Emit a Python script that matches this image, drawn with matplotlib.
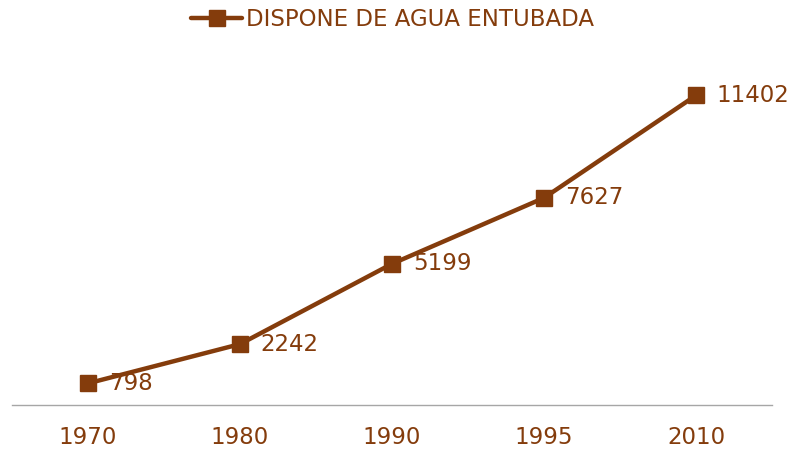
import matplotlib
matplotlib.use('Agg')
import matplotlib.pyplot as plt

years = ["1970", "1980", "1990", "1995", "2010"]
agua = [798, 2242, 5199, 7627, 11402]
series_name = "DISPONE DE AGUA ENTUBADA"

brown = "#843C0C"
plt.rcParams.update({'font.family': 'DejaVu Sans'})

fig = plt.figure(figsize=(7.97, 4.49), dpi=100)
ax = fig.add_axes([12/797, 44/449, 760/797, 353/449])

x = list(range(len(years)))
ax.plot(x, agua, color=brown, lw=3.2, marker="s", markersize=11,
        label=series_name, solid_capstyle="round")
for xi, v in zip(x, agua):
    ax.annotate(f"{v}", (xi, v), xytext=(15, 0), textcoords="offset points",
                va="center", ha="left", fontsize=16.5, color=brown)

ax.set_xlim(-0.5, len(years) - 0.5)
ax.set_ylim(0, 13000)
ax.set_xticks(x)
ax.set_xticklabels(years, fontsize=16.5, color=brown)
ax.tick_params(axis="x", length=0, pad=15)
ax.set_yticks([])
for s in ["top", "right", "left"]:
    ax.spines[s].set_visible(False)
ax.spines["bottom"].set_color("#A6A6A6")
ax.spines["bottom"].set_linewidth(1)

leg = fig.legend(loc="center", bbox_to_anchor=(393/797, 1 - 20/449), frameon=False,
                 fontsize=16.5, handlelength=2.2, handletextpad=0.2)
for t in leg.get_texts():
    t.set_color(brown)

fig.savefig("out.png", dpi=100)
